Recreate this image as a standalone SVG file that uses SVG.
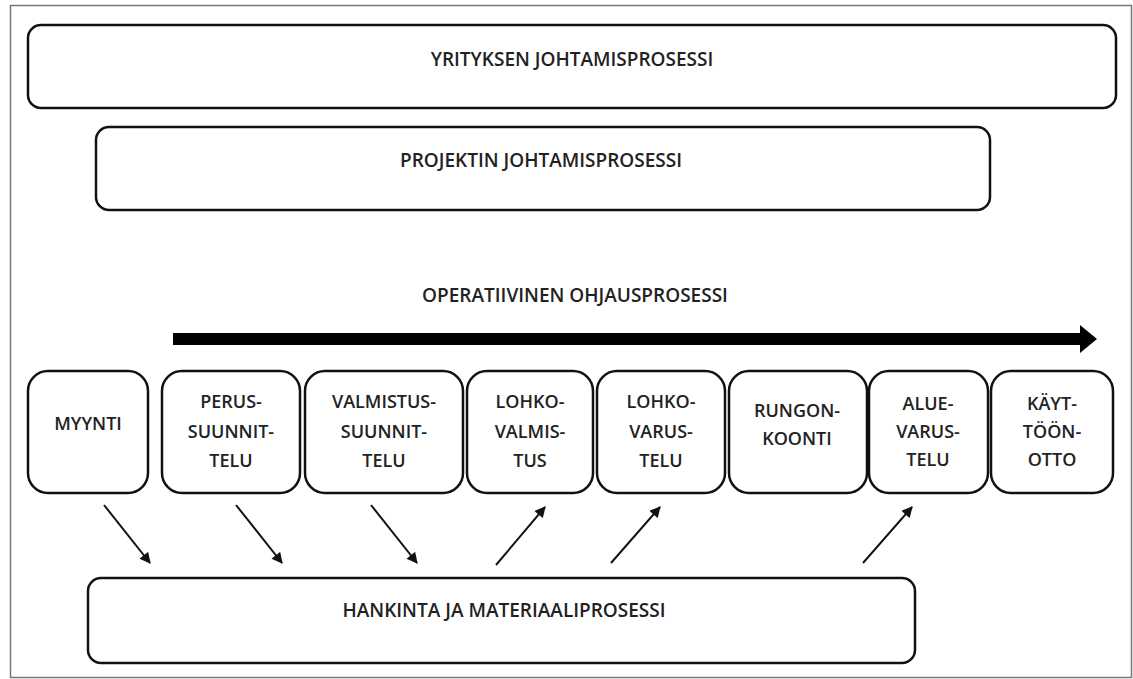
<svg xmlns="http://www.w3.org/2000/svg" width="1133" height="679" viewBox="0 0 1133 679">
<defs>
<style>
.box{fill:#fff;stroke:#111;stroke-width:2.5}
.t{font-family:"Open Sans","Liberation Sans",sans-serif;font-size:18px;font-weight:600;fill:#222;text-anchor:middle;dominant-baseline:central}
.l{font-size:19px}
.c{stroke:#111;stroke-width:2;fill:none;marker-end:url(#ah)}
</style>
<marker id="ah" viewBox="0 0 10 10" refX="9" refY="5" markerWidth="12" markerHeight="11" orient="auto" markerUnits="userSpaceOnUse">
<path d="M0,0 L10,5 L0,10 z" fill="#111"/>
</marker>
</defs>
<rect x="0" y="0" width="1133" height="679" fill="#fff"/>
<rect x="10.5" y="5.5" width="1121" height="672" fill="none" stroke="#777" stroke-width="1.5"/>

<g id="yritys"><rect class="box" x="28" y="25" width="1088" height="83" rx="13"/><text class="t l" x="572" y="59">YRITYKSEN JOHTAMISPROSESSI</text></g>
<g id="projekti"><rect class="box" x="96" y="127" width="894" height="83" rx="13"/><text class="t l" x="541" y="160">PROJEKTIN JOHTAMISPROSESSI</text></g>
<g id="operatiivinen"><text class="t l" x="575" y="295">OPERATIIVINEN OHJAUSPROSESSI</text>
<path d="M173,333 L1080,333 L1080,325 L1097,339 L1080,353 L1080,345 L173,345 z" fill="#000"/></g>

<g id="myynti"><rect class="box" x="28" y="371" width="120" height="122" rx="20"/><text class="t" x="88" y="423">MYYNTI</text></g>
<g id="perus"><rect class="box" x="162" y="371" width="138" height="122" rx="20"/><text class="t" x="231" y="401">PERUS-</text><text class="t" x="231" y="431">SUUNNIT-</text><text class="t" x="231" y="460">TELU</text></g>
<g id="valmistus"><rect class="box" x="305" y="371" width="158" height="122" rx="20"/><text class="t" x="384" y="401">VALMISTUS-</text><text class="t" x="384" y="431">SUUNNIT-</text><text class="t" x="384" y="460">TELU</text></g>
<g id="lohkovalmistus"><rect class="box" x="467" y="371" width="126" height="122" rx="20"/><text class="t" x="530" y="401">LOHKO-</text><text class="t" x="530" y="431">VALMIS-</text><text class="t" x="530" y="460">TUS</text></g>
<g id="lohkovarustelu"><rect class="box" x="597" y="371" width="128" height="122" rx="20"/><text class="t" x="661" y="401">LOHKO-</text><text class="t" x="661" y="431">VARUS-</text><text class="t" x="661" y="460">TELU</text></g>
<g id="rungonkoonti"><rect class="box" x="729" y="371" width="138" height="122" rx="20"/><text class="t" x="797" y="410">RUNGON-</text><text class="t" x="797" y="438">KOONTI</text></g>
<g id="aluevarustelu"><rect class="box" x="869" y="371" width="119" height="122" rx="20"/><text class="t" x="928" y="403">ALUE-</text><text class="t" x="928" y="431">VARUS-</text><text class="t" x="928" y="459">TELU</text></g>
<g id="kayttoonotto"><rect class="box" x="991" y="371" width="122" height="122" rx="20"/><text class="t" x="1052" y="403">KÄYT-</text><text class="t" x="1052" y="431">TÖÖN-</text><text class="t" x="1052" y="459">OTTO</text></g>

<g id="hankinta"><rect class="box" x="88" y="578" width="827" height="85" rx="13"/><text class="t l" x="504" y="610">HANKINTA JA MATERIAALIPROSESSI</text></g>

<g id="connectors">
<line class="c" x1="104" y1="505" x2="150" y2="563"/>
<line class="c" x1="236" y1="505" x2="282" y2="563"/>
<line class="c" x1="371" y1="505" x2="417" y2="563"/>
<line class="c" x1="496" y1="565" x2="545" y2="507"/>
<line class="c" x1="611" y1="563" x2="660" y2="507"/>
<line class="c" x1="863" y1="563" x2="912" y2="507"/>
</g>
</svg>
